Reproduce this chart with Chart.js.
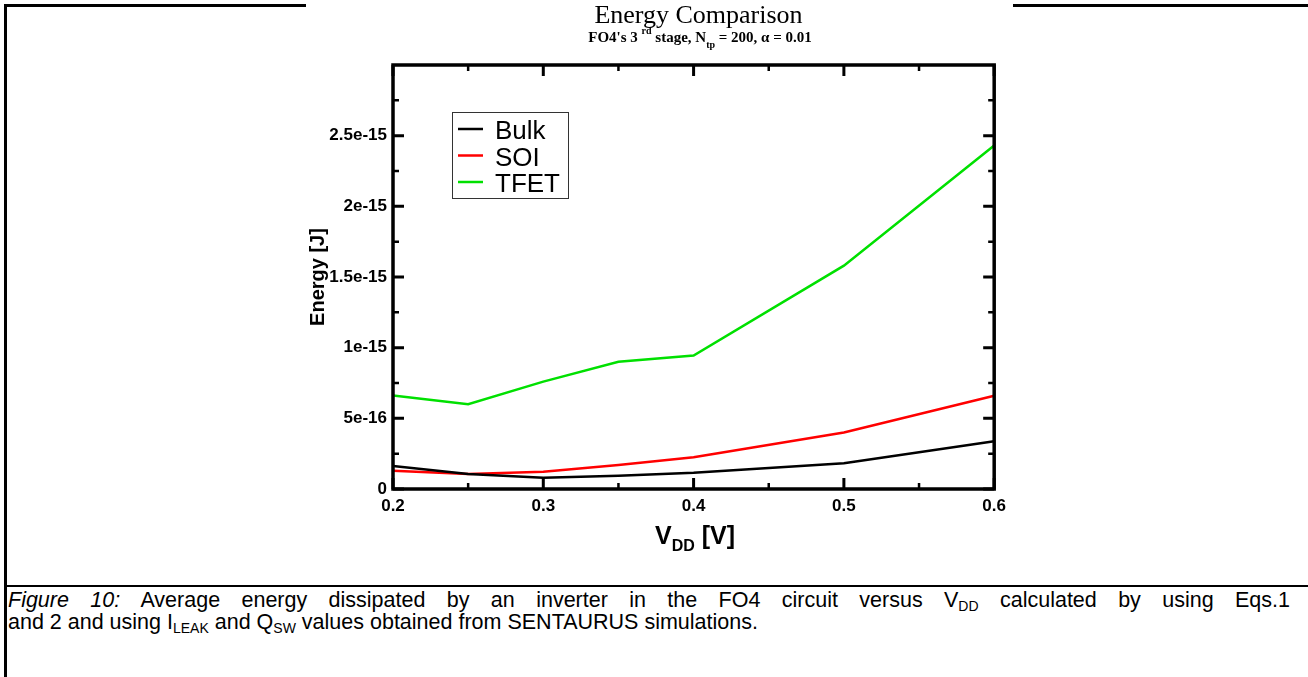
<!DOCTYPE html>
<html>
<head>
<meta charset="utf-8">
<script src="https://cdn.jsdelivr.net/npm/chart.js@4.4.1/dist/chart.umd.min.js"></script>
<style>
  html, body { margin: 0; padding: 0; background: #fff; }
  body { width: 1308px; height: 677px; position: relative; overflow: hidden; font-family: "Liberation Sans", Arial, sans-serif; }
  .hl { position: absolute; background: #000; }
  #wrap { position: absolute; left: 306px; top: 0; width: 707px; height: 570px; background: #fff; z-index: 2; }
  #title { position: absolute; top: 1px; text-align: center; font-family: "Liberation Serif", "Times New Roman", serif; font-size: 26px; color: #000; z-index: 3; line-height: 28px; left: 306px; width: 785px; }
  #subtitle { position: absolute; top: 28px; left: 306px; width: 788px; text-align: center; font-family: "Liberation Serif", "Times New Roman", serif; font-weight: bold; font-size: 15px; line-height: 18px; z-index: 3; }
  #subtitle sup { font-size: 10px; vertical-align: 8px; line-height: 0; }
  #subtitle sub { font-size: 10px; vertical-align: -6px; line-height: 0; }
  #xtitle { position: absolute; top: 520px; left: 595px; width: 200px; text-align: center; font-weight: bold; font-size: 25px; line-height: 30px; z-index: 3; }
  #xtitle sub { font-size: 16px; vertical-align: -7px; line-height: 0; }
  #caption { position: absolute; left: 8px; top: 589px; width: 1282px; font-size: 21.5px; line-height: 22px; color: #000; }
  #caption .l1 { text-align: justify; text-align-last: justify; }
  #caption sub { font-size: 14px; vertical-align: -4px; line-height: 0; }
</style>
</head>
<body>
<div class="hl" style="left:4px; top:4px; width:1304px; height:3px;"></div>
<div class="hl" style="left:4px; top:4px; width:3px; height:673px;"></div>
<div class="hl" style="left:4px; top:585px; width:1304px; height:2px;"></div>
<div id="wrap"><canvas id="c" width="707" height="570"></canvas></div>
<div id="title">Energy Comparison</div>
<div id="subtitle">FO4's 3 <sup>rd</sup> stage, N<sub>tp</sub> = 200, α = 0.01</div>
<div id="xtitle">V<sub>DD</sub> [V]</div>
<div id="caption"><div class="l1"><i>Figure 10:</i> Average energy dissipated by an inverter in the FO4 circuit versus V<sub>DD</sub> calculated by using Eqs.1</div><div>and 2 and using I<sub>LEAK</sub> and Q<sub>SW</sub> values obtained from SENTAURUS simulations.</div></div>
<script>
// ---- data ----
const vdd = [0.2, 0.25, 0.3, 0.35, 0.4, 0.5, 0.6];
const bulk = [1.62e-16, 1.06e-16, 0.80e-16, 0.94e-16, 1.15e-16, 1.83e-16, 3.38e-16];
const soi  = [1.29e-16, 1.06e-16, 1.22e-16, 1.69e-16, 2.25e-16, 4.00e-16, 6.60e-16];
const tfet = [6.62e-16, 6.00e-16, 7.60e-16, 9.00e-16, 9.44e-16, 15.8e-16, 24.3e-16];
const seriesNames = ['Bulk', 'SOI', 'TFET'];
const seriesColors = ['#000000', '#ff0000', '#00e000'];
const xTickValues = [0.2, 0.3, 0.4, 0.5, 0.6];
const xTickLabels = ['0.2', '0.3', '0.4', '0.5', '0.6'];
const xMinorValues = [0.25, 0.35, 0.45, 0.55];
const yTickValues = [0, 5e-16, 1e-15, 1.5e-15, 2e-15, 2.5e-15];
const yTickLabels = ['0', '5e-16', '1e-15', '1.5e-15', '2e-15', '2.5e-15'];
const yMinorValues = [2.5e-16, 7.5e-16, 1.25e-15, 1.75e-15, 2.25e-15, 2.75e-15];
const yMax = 3e-15;

const seriesValues = [bulk, soi, tfet];
const datasets = seriesNames.map((n, i) => ({
  label: n,
  data: vdd.map((x, j) => ({ x: x, y: seriesValues[i][j] })),
  borderColor: seriesColors[i],
  backgroundColor: seriesColors[i],
  borderWidth: 2.5,
  pointRadius: 0,
  tension: 0,
  fill: false
}));

const frameTicks = {
  id: 'frameTicks',
  afterDatasetsDraw(chart) {
    const { ctx, chartArea: a, scales: { x, y } } = chart;
    ctx.save();
    ctx.strokeStyle = '#000';
    ctx.lineCap = 'butt';
    const tick = (px, len, horiz, w) => {
      ctx.lineWidth = w;
      ctx.beginPath();
      if (horiz) {
        ctx.moveTo(px, a.bottom); ctx.lineTo(px, a.bottom - len);
        ctx.moveTo(px, a.top); ctx.lineTo(px, a.top + len);
      } else {
        ctx.moveTo(a.left, px); ctx.lineTo(a.left + len, px);
        ctx.moveTo(a.right, px); ctx.lineTo(a.right - len, px);
      }
      ctx.stroke();
    };
    xTickValues.forEach(v => tick(x.getPixelForValue(v), 11, true, 3));
    xMinorValues.forEach(v => tick(x.getPixelForValue(v), 6, true, 2.5));
    yTickValues.forEach(v => tick(y.getPixelForValue(v), 11, false, 3));
    yMinorValues.forEach(v => tick(y.getPixelForValue(v), 6, false, 2.5));
    ctx.lineWidth = 3.5;
    ctx.strokeRect(a.left, a.top, a.right - a.left, a.bottom - a.top);
    // legend
    const bx = a.left + 59, by = a.top + 47, bw = 116, bh = 86;
    ctx.lineWidth = 1;
    ctx.strokeStyle = '#333';
    ctx.strokeRect(bx + 0.5, by + 0.5, bw, bh);
    ctx.font = '26px "Liberation Sans", Arial, sans-serif';
    ctx.textBaseline = 'alphabetic';
    ctx.textAlign = 'left';
    chart.data.datasets.forEach((ds, i) => {
      const base = by + 27 + i * 26.5;
      ctx.strokeStyle = ds.borderColor;
      ctx.lineWidth = 2.5;
      ctx.beginPath();
      ctx.moveTo(bx + 6, base - 10);
      ctx.lineTo(bx + 31, base - 10);
      ctx.stroke();
      ctx.fillStyle = '#000';
      ctx.fillText(ds.label, bx + 43, base);
    });
    ctx.restore();
  }
};

new Chart(document.getElementById('c'), {
  type: 'line',
  data: { datasets: datasets },
  options: {
    responsive: false,
    animation: false,
    layout: { padding: { left: 0, top: 65, right: 15, bottom: 0 } },
    plugins: { legend: { display: false }, tooltip: { enabled: false }, title: { display: false } },
    scales: {
      x: {
        type: 'linear', min: 0.2, max: 0.6,
        grid: { display: false, drawTicks: false },
        border: { display: false },
        afterBuildTicks: s => { s.ticks = xTickValues.map(v => ({ value: v })); },
        afterFit: s => { s.height = 81; },
        ticks: {
          padding: 7, color: '#000', maxRotation: 0,
          font: { family: '"Liberation Sans", Arial, sans-serif', size: 17, weight: 'bold' },
          callback: v => { const i = xTickValues.findIndex(t => Math.abs(t - v) < 1e-9); return i >= 0 ? xTickLabels[i] : ''; }
        }
      },
      y: {
        type: 'linear', min: 0, max: yMax,
        grid: { display: false, drawTicks: false },
        border: { display: false },
        afterBuildTicks: s => { s.ticks = yTickValues.map(v => ({ value: v })); },
        afterFit: s => { s.width = 87; },
        title: { display: true, text: 'Energy [J]', color: '#000', padding: 0,
          font: { family: '"Liberation Sans", Arial, sans-serif', size: 20, weight: 'bold' } },
        ticks: {
          padding: 6, color: '#000',
          font: { family: '"Liberation Sans", Arial, sans-serif', size: 17, weight: 'bold' },
          callback: v => { const i = yTickValues.findIndex(t => Math.abs(t - v) < 1e-20); return i >= 0 ? yTickLabels[i] : ''; }
        }
      }
    }
  },
  plugins: [frameTicks]
});
</script>
</body>
</html>
